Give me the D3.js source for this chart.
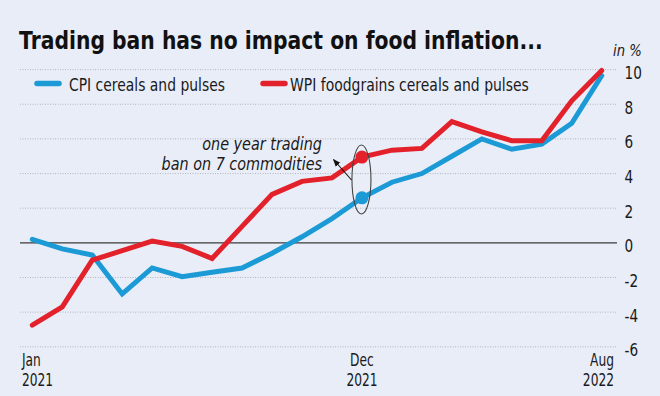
<!DOCTYPE html>
<html><head><meta charset="utf-8">
<script src="https://cdn.jsdelivr.net/npm/d3@7"></script>
<style>
html,body{margin:0;padding:0;background:#e9edf8;}
text{font-family:"DejaVu Sans",sans-serif;}
</style></head>
<body><svg id="c" width="660" height="396"></svg>
<script>
const months = ["Jan 2021","Feb 2021","Mar 2021","Apr 2021","May 2021","Jun 2021","Jul 2021","Aug 2021","Sep 2021","Oct 2021","Nov 2021","Dec 2021","Jan 2022","Feb 2022","Mar 2022","Apr 2022","May 2022","Jun 2022","Jul 2022","Aug 2022"];
const cpi = [0.2,-0.35,-0.7,-2.95,-1.45,-1.95,-1.7,-1.45,-0.6,0.35,1.4,2.6,3.5,4.0,5.0,6.0,5.4,5.7,6.9,9.65];
const wpi = [-4.75,-3.7,-1.0,-0.45,0.1,-0.2,-0.9,0.95,2.8,3.55,3.75,4.95,5.35,5.45,7.0,6.4,5.9,5.9,8.2,9.95];
const yTicks = [10,8,6,4,2,0,-2,-4,-6];
const xLabels = [["Jan","2021",0],["Dec","2021",11],["Aug","2022",19]];
const seriesNames = ["CPI cereals and pulses","WPI foodgrains cereals and pulses"];
const titleText = "Trading ban has no impact on food inflation...";
const colors = ["#1b9ad6","#e3212b"];

const svg = d3.select("#c");
svg.append("rect").attr("width",660).attr("height",396).attr("fill","#e9edf8");

function ctext(px, py, str, size, opts={}){
  const t = svg.append("text")
    .attr("font-size",size).attr("fill",opts.fill||"#1a1a1a")
    .attr("text-anchor",opts.anchor||"start").text(str);
  if(opts.italic) t.attr("font-style","italic");
  if(opts.bold) t.attr("font-weight","bold");
  let s = opts.sx || 0.74;
  if(opts.width){ s = opts.width / t.node().getComputedTextLength(); }
  t.attr("transform",`translate(${px},${py}) scale(${s},1)`);
  return t;
}

const x = d3.scalePoint().domain(months).range([32.3,601.7]);
const y = d3.scaleLinear().domain([-6,10]).range([346.8,69.6]);

// gridlines
yTicks.forEach(t=>{
  svg.append("line").attr("x1",20).attr("x2",617).attr("y1",y(t)).attr("y2",y(t))
    .attr("stroke", t===0 ? "#3b3b3b" : "#b3b6bf")
    .attr("stroke-width", t===0 ? 1.4 : 1)
    .attr("stroke-dasharray", t===0 ? null : "1,1.5");
  ctext(624.5, y(t)+9.5, t, 17.5, {sx:0.78});
});
ctext(613, 56, "in %", 16.5, {italic:true, sx:0.8});

// x labels
xLabels.forEach(([m,yr,i])=>{
  const anchor = i===0 ? "start" : (i===months.length-1 ? "end" : "middle");
  const xx = i===0 ? 22 : (i===months.length-1 ? 614 : x(months[i]));
  ctext(xx, 365.5, m, 17.5, {anchor, sx:0.7});
  ctext(xx, 385.5, yr, 17.5, {anchor, sx:0.7});
});

// lines
const line = d3.line().x((d,i)=>x(months[i])).y(d=>y(d));
[cpi,wpi].forEach((s,k)=>{
  svg.append("path").datum(s).attr("d",line).attr("fill","none")
    .attr("stroke",colors[k]).attr("stroke-width",5).attr("stroke-linejoin","miter").attr("stroke-linecap","round");
});

// annotation dots
const di = 11;
svg.append("circle").attr("cx",x(months[di])).attr("cy",y(wpi[di])).attr("r",6.5).attr("fill",colors[1]);
svg.append("circle").attr("cx",x(months[di])).attr("cy",y(cpi[di])).attr("r",6.5).attr("fill",colors[0]);
svg.append("ellipse").attr("cx",x(months[di])-0.5).attr("cy",(y(wpi[di])+y(cpi[di]))/2+2).attr("rx",9.5).attr("ry",34.5)
  .attr("fill","none").attr("stroke","#444").attr("stroke-width",1.1);

// arrow
svg.append("defs").append("marker").attr("id","ah").attr("viewBox","0 0 10 10").attr("refX",9).attr("refY",5)
  .attr("markerWidth",7).attr("markerHeight",7).attr("orient","auto")
  .append("path").attr("d","M0,1 L10,5 L0,9 Z").attr("fill","#111");
svg.append("line").attr("x1",351.5).attr("y1",180).attr("x2",333.5).attr("y2",159.5)
  .attr("stroke","#111").attr("stroke-width",1.1).attr("marker-end","url(#ah)");

ctext(322, 150, "one year trading", 18, {anchor:"end", italic:true, sx:0.8});
ctext(322, 169.5, "ban on 7 commodities", 18, {anchor:"end", italic:true, sx:0.8});

// legend
svg.append("line").attr("x1",37).attr("x2",59).attr("y1",83.5).attr("y2",83.5).attr("stroke",colors[0]).attr("stroke-width",5.5).attr("stroke-linecap","round");
ctext(69, 90.5, seriesNames[0], 18, {width:156});
svg.append("line").attr("x1",263).attr("x2",285).attr("y1",83.5).attr("y2",83.5).attr("stroke",colors[1]).attr("stroke-width",5.5).attr("stroke-linecap","round");
ctext(290, 90.5, seriesNames[1], 18, {width:239});

// title
ctext(19, 48.5, titleText, 25, {bold:true, width:524, fill:"#111"});
</script></body></html>
